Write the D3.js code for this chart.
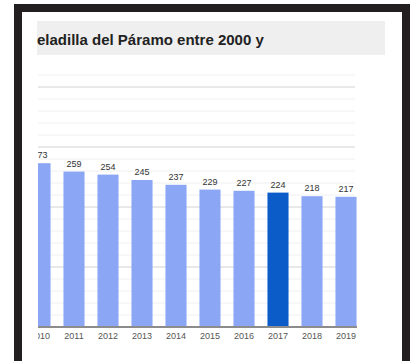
<!DOCTYPE html>
<html>
<head>
<meta charset="utf-8">
<script src="https://cdn.jsdelivr.net/npm/d3@7"></script>
<style>
	body { margin: 0; background: #fff; }
	text { font-family: 'Liberation Sans', Arial, sans-serif; }
</style>
</head>
<body>
<div id="chart"></div>
<script>
// Data
const years = ['2010', '2011', '2012', '2013', '2014', '2015', '2016', '2017', '2018', '2019'];
const population = [273, 259, 254, 245, 237, 229, 227, 224, 218, 217];
const highlightYear = '2017';
const majorTicks = [0, 100, 200, 300, 400];
const minorTicks = d3.range(0, 440, 20);

const width = 416, height = 361;

const svg = d3.select('#chart')
	.append('svg')
	.attr('width', width)
	.attr('height', height);

// Dark frame around the picture
svg.append('rect')
	.attr('x', 18).attr('y', 8)
	.attr('width', 388).attr('height', 357)
	.attr('fill', '#fff')
	.attr('stroke', '#231f20')
	.attr('stroke-width', 8);

// Title band (cut off on the left, as in the source)
svg.append('rect')
	.attr('x', 37).attr('y', 21)
	.attr('width', 348).attr('height', 34)
	.attr('fill', '#efefef');

svg.append('text')
	.attr('x', 37).attr('y', 45)
	.attr('font-size', 15)
	.attr('font-weight', 'bold')
	.attr('fill', '#222')
	.text('eladilla del Páramo entre 2000 y');

// Clip for the plot (the first bar is cut at the left)
svg.append('defs')
	.append('clipPath')
	.attr('id', 'plot-clip')
	.append('rect')
	.attr('x', 38).attr('y', 60)
	.attr('width', 330).attr('height', 290);

const plot = svg.append('g').attr('clip-path', 'url(#plot-clip)');

// Scales
const xScale = d3.scaleBand()
	.domain(years)
	.range([23, 363])
	.paddingInner(0.38)
	.paddingOuter(0.19);

const yScale = d3.scaleLinear()
	.domain([0, 400])
	.range([327, 87]);

// Gridlines
plot.selectAll('line.minor')
	.data(minorTicks.filter(d => !majorTicks.includes(d)))
	.enter().append('line')
	.attr('class', 'minor')
	.attr('x1', 38).attr('x2', 355)
	.attr('y1', d => yScale(d)).attr('y2', d => yScale(d))
	.attr('stroke', '#f0f0f0');

plot.selectAll('line.major')
	.data(majorTicks.slice(1))
	.enter().append('line')
	.attr('class', 'major')
	.attr('x1', 38).attr('x2', 355)
	.attr('y1', d => yScale(d)).attr('y2', d => yScale(d))
	.attr('stroke', '#d2d2d2');

// Bars
plot.selectAll('rect.bar')
	.data(years)
	.enter().append('rect')
	.attr('class', 'bar')
	.attr('x', d => xScale(d))
	.attr('y', (d, i) => yScale(population[i]))
	.attr('width', xScale.bandwidth())
	.attr('height', (d, i) => yScale(0) - yScale(population[i]))
	.attr('fill', d => d === highlightYear ? '#0b5cc9' : '#8ba6f5');

// Value labels
plot.selectAll('text.value')
	.data(years)
	.enter().append('text')
	.attr('class', 'value')
	.attr('x', d => xScale(d) + xScale.bandwidth() / 2)
	.attr('y', (d, i) => yScale(population[i]) - 5)
	.attr('text-anchor', 'middle')
	.attr('font-size', 9)
	.attr('fill', '#333')
	.text((d, i) => population[i]);

// Baseline
plot.append('line')
	.attr('x1', 38).attr('x2', 357)
	.attr('y1', yScale(0)).attr('y2', yScale(0))
	.attr('stroke', '#8c8c8c')
	.attr('stroke-width', 2);

// X axis labels
const xAxis = d3.axisBottom(xScale).tickSize(0).tickPadding(6);
const axisG = plot.append('g')
	.attr('transform', `translate(0, ${yScale(0)})`)
	.call(xAxis);
axisG.select('.domain').remove();
axisG.selectAll('text')
	.attr('font-size', 9)
	.attr('fill', '#555');
</script>
</body>
</html>
